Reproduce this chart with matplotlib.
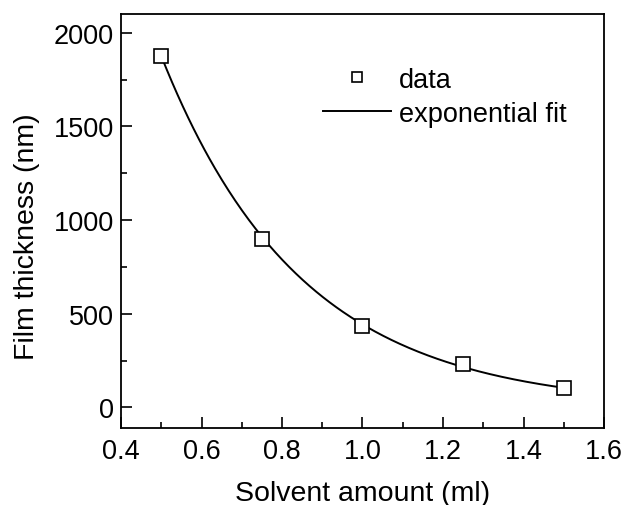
import numpy as np
import matplotlib
matplotlib.use("Agg")
import matplotlib.pyplot as plt
from matplotlib.ticker import MultipleLocator

solvent_ml = [0.5, 0.75, 1.0, 1.25, 1.5]
thickness_nm = [1877, 901, 437, 229, 101]

plt.rcParams['font.family'] = ['Liberation Sans', 'DejaVu Sans']

fig = plt.figure(figsize=(6.35, 5.06), dpi=100)
ax = fig.add_axes([121/635, 1-429/506, (604-121)/635, (429-15)/506])

# exponential fit computed from the data
x = np.array(solvent_ml)
y = np.array(thickness_nm)
b, lna = np.polyfit(x, np.log(y), 1)
xf = np.linspace(x.min(), x.max(), 300)
yf = np.exp(lna) * np.exp(b * xf)

ax.plot(xf, yf, color='black', lw=1.4, label='exponential fit', zorder=2)
ax.plot(x, y, linestyle='none', marker='s', markersize=9.5, markerfacecolor='white',
        markeredgecolor='black', markeredgewidth=1.2, label='data', zorder=3)

ax.set_xlim(0.4, 1.6)
ax.set_ylim(-110, 2100)
ax.xaxis.set_major_locator(MultipleLocator(0.2))
ax.xaxis.set_minor_locator(MultipleLocator(0.1))
ax.yaxis.set_major_locator(MultipleLocator(500))
ax.yaxis.set_minor_locator(MultipleLocator(250))
ax.xaxis.set_major_formatter(matplotlib.ticker.FormatStrFormatter('%.1f'))
ax.tick_params(which='both', direction='in', top=False, right=False, labelsize=19.5, width=1.2)
ax.tick_params(which='major', length=8)
ax.tick_params(which='minor', length=4.5)
ax.tick_params(axis='x', pad=7)
ax.tick_params(axis='y', pad=5)
for s in ax.spines.values():
    s.set_linewidth(1.3)

ax.set_xlabel('Solvent amount (ml)', fontsize=20.5, labelpad=12)
ax.set_ylabel('Film thickness (nm)', fontsize=20.5)
ax.yaxis.set_label_coords(-0.167, 0.464)

h, l = ax.get_legend_handles_labels()
leg = ax.legend([h[1], h[0]], [l[1], l[0]], loc='upper left', bbox_to_anchor=(0.368, 0.932),
                frameon=False, fontsize=19.5, handlelength=2.5, handletextpad=0.3,
                markerscale=0.7, labelspacing=0.3)

fig.savefig('out.png', dpi=100)
